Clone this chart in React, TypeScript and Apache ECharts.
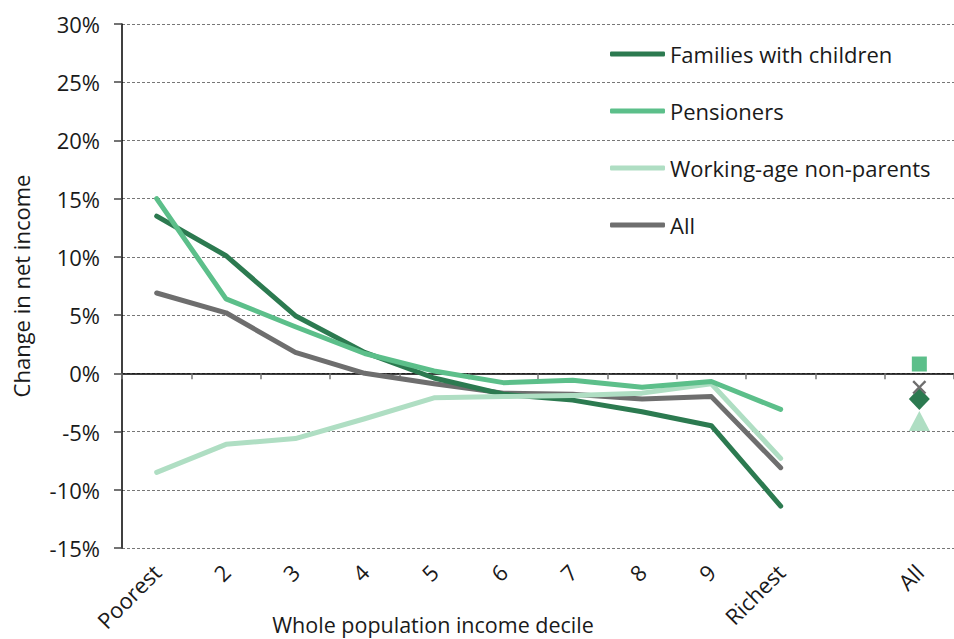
import React, { useEffect, useRef } from "react";
import * as echarts from "echarts";

const categories = ["Poorest", "2", "3", "4", "5", "6", "7", "8", "9", "Richest", "", "All"];
const yTicks = [-15, -10, -5, 0, 5, 10, 15, 20, 25, 30];

const familiesWithChildren = [13.5, 10.1, 4.95, 1.8, -0.4, -1.8, -2.3, -3.3, -4.5, -11.4];
const pensioners = [15.0, 6.4, 4.0, 1.7, 0.2, -0.8, -0.6, -1.2, -0.7, -3.1];
const workingAgeNonParents = [-8.5, -6.1, -5.6, -3.9, -2.1, -2.0, -1.9, -1.7, -0.9, -7.3];
const allHouseholds = [6.9, 5.2, 1.8, 0.0, -0.9, -1.7, -1.8, -2.2, -2.0, -8.1];

const overallFamilies = -2.2;
const overallPensioners = 0.8;
const overallWorkingAge = -4.1;
const overallAll = -1.2;

const seriesNames = ["Families with children", "Pensioners", "Working-age non-parents", "All"];
const colors = {
  families: "#2c7a50",
  pensioners: "#5cbf8a",
  working: "#afdec3",
  all: "#6e6e6e",
};

const FONT = "'Open Sans', 'Noto Sans', sans-serif";
const TEXT = "#1a1a1a";
const FS = 22;

const crossPath =
  "path://M0,1.2 L1.2,0 L5,3.8 L8.8,0 L10,1.2 L6.2,5 L10,8.8 L8.8,10 L5,6.2 L1.2,10 L0,8.8 L3.8,5 Z";

export default function App() {
  const ref = useRef<HTMLDivElement>(null);

  useEffect(() => {
    if (!ref.current) return;
    const chart = echarts.init(ref.current, undefined, { renderer: "svg" });
    const lineSeries = (name: string, data: number[], color: string) => ({
      name,
      type: "line",
      data,
      xAxisIndex: 0,
      symbol: "none",
      lineStyle: { color, width: 5, cap: "round", join: "round" },
      itemStyle: { color },
    });
    const marker = (name: string, value: number, color: string, symbol: string, size: number | number[]) => ({
      name,
      type: "scatter",
      xAxisIndex: 0,
      data: [["All", value]],
      symbol,
      symbolSize: size,
      itemStyle: { color, opacity: 1 },
      z: 5,
    });
    chart.setOption({
      animation: false,
      textStyle: { fontFamily: FONT },
      grid: { left: 122, right: 0, top: 24, bottom: 91 },
      legend: {
        data: seriesNames,
        orient: "vertical",
        left: 605,
        top: 38,
        itemWidth: 55,
        itemHeight: 5,
        itemGap: 35,
        icon: "roundRect",
        textStyle: { fontFamily: FONT, fontSize: FS, color: TEXT },
      },
      xAxis: [
        {
          type: "category",
          data: categories,
          position: "bottom",
          boundaryGap: true,
          axisLine: { show: false, onZero: false },
          axisTick: { show: false },
          axisLabel: {
            interval: 0,
            rotate: 45,
            margin: 20,
            fontFamily: FONT,
            fontSize: FS,
            color: TEXT,
          },
          splitLine: { show: false },
        },
        {
          type: "category",
          data: categories,
          position: "top",
          boundaryGap: true,
          axisLine: { show: true, onZero: true, lineStyle: { color: "#000", width: 1.5 } },
          axisTick: { show: true, inside: true, length: 6, interval: 0, lineStyle: { color: "#777", width: 1.5 } },
          axisLabel: { show: false },
          splitLine: { show: false },
        },
      ],
      yAxis: {
        type: "value",
        min: yTicks[0],
        max: yTicks[yTicks.length - 1],
        interval: 5,
        name: "Change in net income",
        nameLocation: "middle",
        nameGap: 90,
        nameTextStyle: { fontFamily: FONT, fontSize: FS, color: TEXT },
        axisLine: { show: true, lineStyle: { color: "#000", width: 1.5 } },
        axisTick: { show: true, length: 8, lineStyle: { color: "#444", width: 1.5 } },
        axisLabel: {
          formatter: "{value}%",
          margin: 22,
          fontFamily: FONT,
          fontSize: FS,
          color: TEXT,
        },
        splitLine: { show: true, lineStyle: { color: "#777", type: [3, 2], width: 1 } },
      },
      graphic: [
        {
          type: "text",
          x: 433,
          y: 624,
          style: {
            text: "Whole population income decile",
            fontFamily: FONT,
            fontSize: 21.5,
            fill: TEXT,
            align: "center",
            verticalAlign: "middle",
          },
        },
      ],
      series: [
        lineSeries("All", allHouseholds, colors.all),
        lineSeries("Families with children", familiesWithChildren, colors.families),
        lineSeries("Working-age non-parents", workingAgeNonParents, colors.working),
        lineSeries("Pensioners", pensioners, colors.pensioners),
        marker("Overall pensioners", overallPensioners, colors.pensioners, "rect", 15),
        marker("Overall working-age", overallWorkingAge, colors.working, "triangle", [21, 20]),
        marker("Overall families", overallFamilies, colors.families, "diamond", [21, 22]),
        marker("Overall all", overallAll, colors.all, crossPath, 14),
      ],
    });
    return () => chart.dispose();
  }, []);

  return (
    <div
      ref={ref}
      style={{ position: "absolute", left: 0, top: 0, width: 954, height: 639, background: "#fff" }}
    />
  );
}
